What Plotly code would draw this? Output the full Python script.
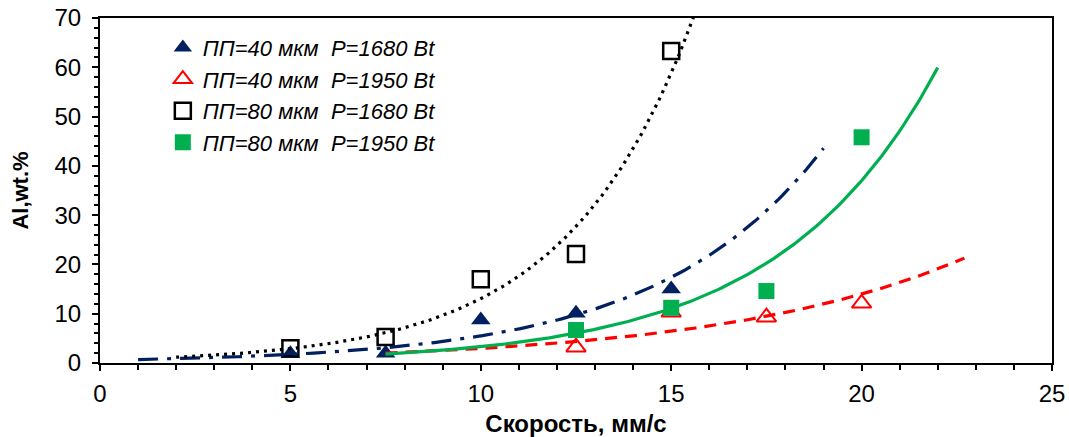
import numpy as np
import plotly.graph_objects as go

# Data
speed_40_1680 = [5, 7.5, 10, 12.5, 15]
al_40_1680 = [1.9, 2.0, 8.7, 10.1, 15.0]

speed_40_1950 = [12.5, 15, 17.5, 20]
al_40_1950 = [3.2, 10.3, 9.3, 12.1]

speed_80_1680 = [5, 7.5, 10, 12.5, 15]
al_80_1680 = [3.0, 5.3, 17.0, 22.1, 63.3]

speed_80_1950 = [12.5, 15, 17.5, 20]
al_80_1950 = [6.7, 11.2, 14.6, 45.8]

names = ["ПП=40 мкм\u00a0 P=1680 Bt", "ПП=40 мкм\u00a0 P=1950 Bt",
         "ПП=80 мкм\u00a0 P=1680 Bt", "ПП=80 мкм\u00a0 P=1950 Bt"]

# Exponential trendline ranges (Excel style forecast)
trend_range_40_1680 = [1, 19]
trend_range_40_1950 = [7.5, 22.7]
trend_range_80_1680 = [2, 16]
trend_range_80_1950 = [7.5, 22]

NAVY = "#002060"
RED = "#FF0000"
GREEN = "#00B050"
BLACK = "#000000"

def exp_trend(x, y, rng):
    b, a = np.polyfit(np.array(x, float), np.log(np.array(y, float)), 1)
    xs = np.linspace(rng[0], rng[1], 200)
    return xs, np.exp(a + b * xs)

fig = go.Figure()

fig.add_trace(go.Scatter(x=speed_40_1680, y=al_40_1680, mode="markers", name=names[0],
                         marker=dict(symbol="triangle-up", size=17, color=NAVY,
                                     line=dict(width=0))))
fig.add_trace(go.Scatter(x=speed_40_1950, y=al_40_1950, mode="markers", name=names[1],
                         marker=dict(symbol="triangle-up-open", size=17, color=RED,
                                     line=dict(width=2, color=RED))))
fig.add_trace(go.Scatter(x=speed_80_1680, y=al_80_1680, mode="markers", name=names[2],
                         marker=dict(symbol="square-open", size=16, color=BLACK,
                                     line=dict(width=2.5, color=BLACK))))
fig.add_trace(go.Scatter(x=speed_80_1950, y=al_80_1950, mode="markers", name=names[3],
                         marker=dict(symbol="square", size=16, color=GREEN,
                                     line=dict(width=0))))

for (x, y, rng, col, dash) in [
    (speed_40_1680, al_40_1680, trend_range_40_1680, NAVY, "20px,9px,4px,9px"),
    (speed_40_1950, al_40_1950, trend_range_40_1950, RED, "12px,8px"),
    (speed_80_1680, al_80_1680, trend_range_80_1680, BLACK, "3px,5px"),
    (speed_80_1950, al_80_1950, trend_range_80_1950, GREEN, "solid"),
]:
    xs, ys = exp_trend(x, y, rng)
    fig.add_trace(go.Scatter(x=xs, y=ys, mode="lines", showlegend=False, hoverinfo="skip",
                             line=dict(color=col, width=3.2, dash=dash)))

FAM = "Liberation Sans, Arial, sans-serif"
tick_font = dict(family=FAM, size=24, color="#000000")
fig.update_layout(
    width=1069, height=437,
    margin=dict(l=100, r=17, t=18, b=74, autoexpand=False),
    paper_bgcolor="white", plot_bgcolor="white",
    font=tick_font,
    legend=dict(x=0.066, y=0.975, xanchor="left", yanchor="top",
                bgcolor="rgba(0,0,0,0)", itemwidth=30,
                font=dict(family=FAM, size=22, color="#000000", style="italic"),
                tracegroupgap=0),
    xaxis=dict(range=[0, 25], tickvals=[0, 5, 10, 15, 20, 25], automargin=False,
               ticks="outside", ticklen=6, tickwidth=1.5, tickcolor="#000",
               minor=dict(dtick=1, ticks="outside", ticklen=5, tickwidth=1.5, tickcolor="#000"),
               showline=True, linecolor="#000", linewidth=2, mirror=True,
               showgrid=False, zeroline=False, tickfont=tick_font, ticklabelstandoff=2,
               title=dict(text="<b>Скорость, мм/с</b>",
                          font=dict(family=FAM, size=24, color="#000000"), standoff=11)),
    yaxis=dict(range=[0, 70], tickvals=[0, 10, 20, 30, 40, 50, 60, 70], automargin=False,
               ticks="outside", ticklen=6, tickwidth=1.5, tickcolor="#000",
               minor=dict(dtick=2, ticks="outside", ticklen=4, tickwidth=1.5, tickcolor="#000"),
               showline=True, linecolor="#000", linewidth=2, mirror=True,
               showgrid=False, zeroline=False, tickfont=tick_font, ticklabelstandoff=6,
               title=dict(text="<b>Al,wt.%</b>",
                          font=dict(family=FAM, size=22, color="#000000"), standoff=20)),
)

fig.write_html("out.html")
